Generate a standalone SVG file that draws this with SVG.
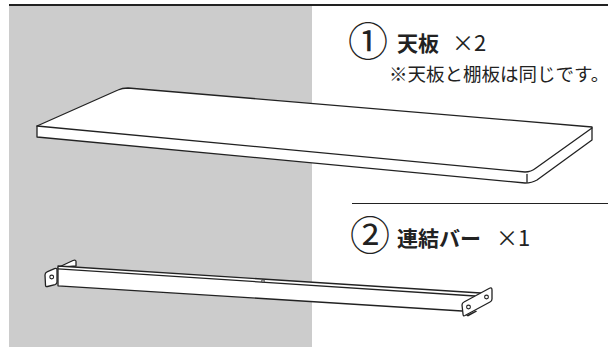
<svg xmlns="http://www.w3.org/2000/svg" width="608" height="347" viewBox="0 0 608 347">
<style>
  .ln{fill:none;stroke:#222;stroke-width:1.3;stroke-linejoin:round;stroke-linecap:round}
  .sh{fill:#fff;stroke:#222;stroke-width:1.3;stroke-linejoin:round}
  .num{font-family:"Noto Sans CJK JP","Noto Sans",sans-serif;font-size:40px;fill:#222}
  .ttl{font-family:"Noto Sans CJK JP","Noto Sans",sans-serif;font-size:21px;font-weight:bold;fill:#222}
  .qty{font-family:"Noto Sans CJK JP","Noto Sans",sans-serif;font-size:22px;fill:#222}
  .note{font-family:"Noto Sans CJK JP","Noto Sans",sans-serif;font-size:18.5px;fill:#222}
</style>
<rect x="0" y="0" width="608" height="347" fill="#fff"/>
<rect id="backdrop" x="9" y="6" width="303" height="341" fill="#cccccc"/>
<rect id="top-rule" x="9" y="4" width="599" height="2" fill="#222"/>
<line id="divider" x1="352" y1="203.5" x2="608" y2="203.5" stroke="#222" stroke-width="1.2"/>

<g id="part1-label">
  <text class="num" x="348" y="56">①</text>
  <text class="ttl" x="397" y="51">天板</text>
  <text class="qty" x="452" y="51">×2</text>
  <text class="note" x="389" y="81">※天板と棚板は同じです。</text>
</g>

<g id="part1-shelf">
  <path class="sh" d="M37,126 L118,90 Q122,88 128,88 L592,127 L592,140 L537,180 Q532,183 525,183 L37,137 Z"/>
  <path class="ln" d="M37,126 L525,172 Q531,172 536,168 L592,128"/>
  <path class="ln" d="M527,174.5 L527,182"/>
</g>

<g id="part2-label">
  <text class="num" x="350" y="250">②</text>
  <text class="ttl" x="397" y="246">連結バー</text>
  <text class="qty" x="496" y="246">×1</text>
</g>

<g id="part2-bar">
  <path class="sh" d="M58,267.5 L73,260.5 Q76,259.5 76,261.5 L76,266 Z"/>
  <path class="sh" d="M58,266 L480.7,293 L462,311 L58,285.8 Z"/>
  <path class="ln" d="M58,268.8 L475,296"/>
  <circle cx="263" cy="281" r="1.3" fill="#fff" stroke="#222" stroke-width="0.9"/>
  <path class="sh" d="M45,275 Q45,272.5 47,271.8 L54.5,268.6 Q57,267.8 57,270 L57,282 Q57,284 55,284.6 L47.5,286.5 Q45.5,287 45.5,285 Z"/>
  <circle cx="51.7" cy="277" r="1.9" fill="#fff" stroke="#222" stroke-width="1.1"/>
  <path fill="#222" d="M466,315.5 L476,310.5 L477,311.5 L468,316.5 Z"/>
  <path class="sh" d="M462,305 Q462,303 464,302 L489.5,288.3 Q492,287 492,290 L492,299 Q492,301 490,302 L465,315.5 Q463,316.5 463,314 Z"/>
  <circle cx="468.5" cy="307" r="1.9" fill="#fff" stroke="#222" stroke-width="1.1"/>
  <circle cx="486.5" cy="297" r="1.9" fill="#fff" stroke="#222" stroke-width="1.1"/>
</g>
</svg>
